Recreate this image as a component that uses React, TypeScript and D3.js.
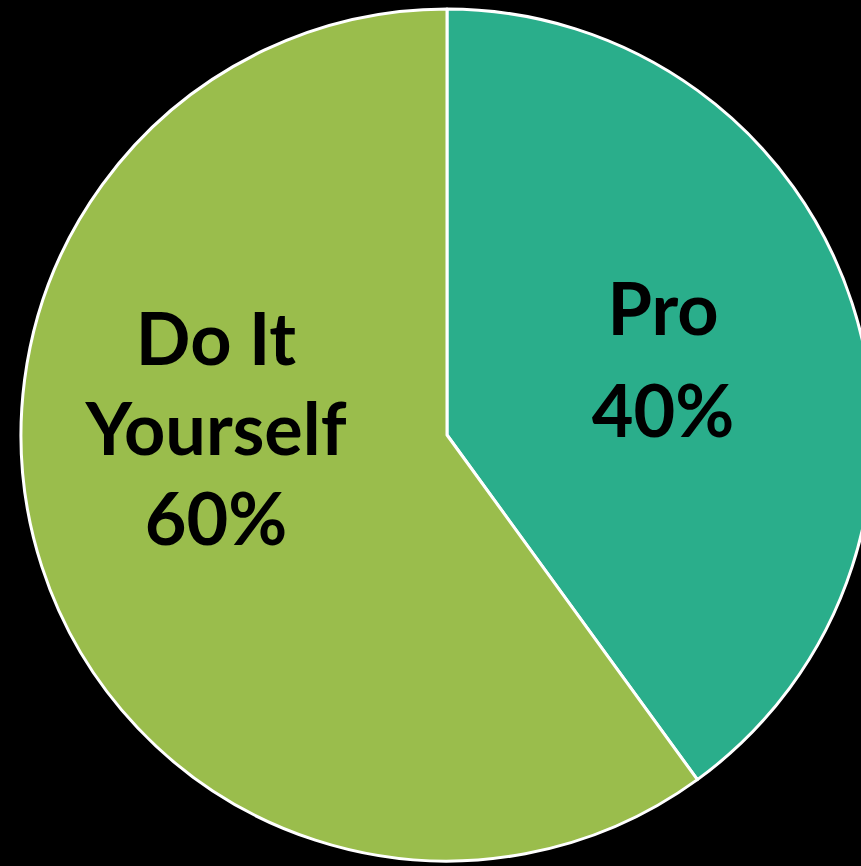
import React from "react";
import * as d3 from "d3";

const categories = ["Pro", "Do It Yourself"];
const values = [40, 60];
const labelLines = [["Pro", "40%"], ["Do It", "Yourself", "60%"]];
const colors = ["#2AAE8B", "#9ABD4C"];

const W = 861;
const H = 866;
const cx = 447;
const cy = 435;
const R = 426;
// label anchor (center x, first baseline y) and line spacing per slice
const labelLayout = [
  { x: 663, y: 335, dy: 102 },
  { x: 216, y: 365, dy: 90 },
];

export default function App() {
  const pie = d3.pie<number>().sort(null).value((d) => d)(values);
  const arc = d3.arc<d3.PieArcDatum<number>>().innerRadius(0).outerRadius(R);
  return (
    <svg
      width={W}
      height={H}
      style={{ position: "absolute", left: 0, top: 0, background: "#000" }}
    >
      <rect x={0} y={0} width={W} height={H} fill="#000" />
      <g transform={`translate(${cx},${cy})`}>
        {pie.map((p, i) => (
          <path
            key={categories[i]}
            d={arc(p) || ""}
            fill={colors[i]}
            stroke="#fff"
            strokeWidth={3}
            strokeLinejoin="round"
          />
        ))}
      </g>
      {labelLines.map((lines, i) => (
        <text
          key={i}
          textAnchor="middle"
          fontFamily="Lato, 'Open Sans', sans-serif"
          fontWeight="bold"
          fontSize={72}
          fill="#000"
        >
          {lines.map((l, j) => (
            <tspan key={j} x={labelLayout[i].x} y={labelLayout[i].y + j * labelLayout[i].dy}>
              {l}
            </tspan>
          ))}
        </text>
      ))}
    </svg>
  );
}
